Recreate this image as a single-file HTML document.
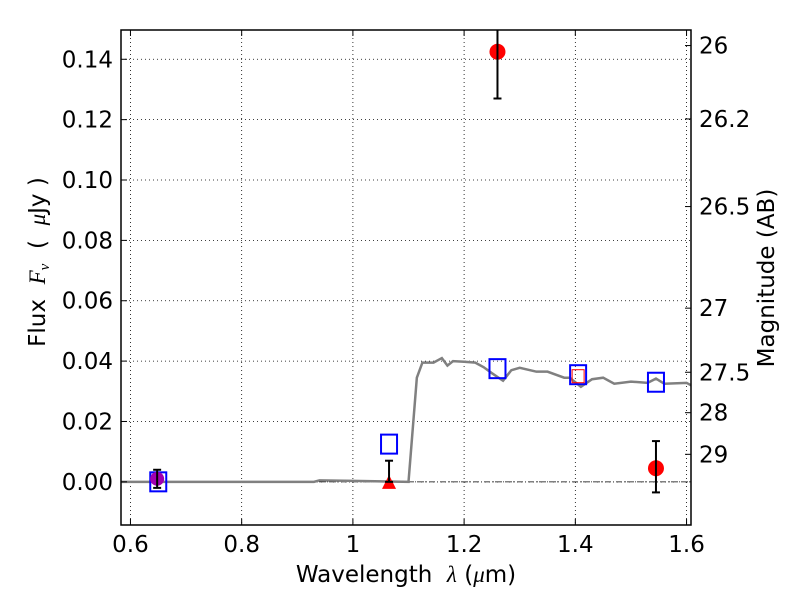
<!DOCTYPE html>
<html><head><meta charset="utf-8"><style>
html,body{margin:0;padding:0;background:#fff;}
svg{display:block;font-family:"DejaVu Sans","Liberation Sans",sans-serif;}
</style></head><body>
<svg id="chart" width="800" height="600" viewBox="0 0 800 600" xmlns="http://www.w3.org/2000/svg">
<defs><clipPath id="pc"><rect x="121" y="30" width="570" height="495"/></clipPath></defs>
<g id="grid"></g>
<g id="marks" clip-path="url(#pc)"></g>
<g id="axes"></g>
<text x="406" y="582" font-size="23" text-anchor="middle" xml:space="preserve">Wavelength  <tspan font-family="Liberation Serif" font-style="italic">λ</tspan> (<tspan font-family="Liberation Serif" font-style="italic">μ</tspan>m)</text>
<text transform="translate(45,262) rotate(-90)" font-size="23" text-anchor="middle" xml:space="preserve">Flux  <tspan font-family="Liberation Serif" font-style="italic">F<tspan font-size="15" dy="4">ν</tspan></tspan><tspan dy="-4">  (  </tspan><tspan font-family="Liberation Serif" font-style="italic">μ</tspan>Jy )</text>
<text transform="translate(774,278) rotate(-90)" font-size="23" text-anchor="middle">Magnitude (AB)</text>
</svg>
<script>
const xTicks=[0.6,0.8,1.0,1.2,1.4,1.6];
const xTickLabels=["0.6","0.8","1","1.2","1.4","1.6"];
const yTicks=[0,0.02,0.04,0.06,0.08,0.10,0.12,0.14];
const yTickLabels=["0.00","0.02","0.04","0.06","0.08","0.10","0.12","0.14"];
const magTicks=[26,26.2,26.5,27,27.5,28,29];
const magLabels=["26","26.2","26.5","27","27.5","28","29"];
const modelX=[0.58,0.93,0.94,1.0,1.1,1.115,1.125,1.145,1.16,1.17,1.18,1.2,1.22,1.235,1.25,1.27,1.285,1.3,1.33,1.35,1.38,1.39,1.41,1.43,1.45,1.47,1.5,1.53,1.545,1.56,1.6,1.608];
const modelY=[0,0,0.0005,0.0003,0,0.0345,0.0395,0.0395,0.041,0.0385,0.040,0.0398,0.0395,0.038,0.036,0.0335,0.037,0.0378,0.0365,0.0365,0.0345,0.0345,0.0315,0.034,0.0345,0.0325,0.0332,0.0328,0.0342,0.0325,0.0328,0.032];
const modelSqX=[0.65,1.065,1.26,1.405,1.545];
const modelSqY=[0.0,0.0125,0.0375,0.0355,0.033];
const detX=[1.26,1.545];
const detY=[0.1425,0.0045];
const detLo=[0.127,-0.0035];
const detHi=[0.16,0.0135];
const ulX=[1.065];const ulY=[0.0];const ulHi=[0.007];
const magX=[0.648];const magY=[0.001];const magErr=[0.003];
const redSqX=[1.405];const redSqY=[0.035];

const L=121,R=691,T=30,B=525;
const X0=0.583,X1=1.608,Y0=-0.0143,Y1=0.1497;
const sx=v=>L+(v-X0)/(X1-X0)*(R-L);
const sy=v=>B-(v-Y0)/(Y1-Y0)*(B-T);
const NS="http://www.w3.org/2000/svg";
function mk(tag,attrs,parent){const e=document.createElementNS(NS,tag);for(const k in attrs)e.setAttribute(k,attrs[k]);parent.appendChild(e);return e;}
const grid=document.getElementById('grid'),marks=document.getElementById('marks'),axes=document.getElementById('axes');
xTicks.forEach((v,i)=>{
 const g=mk('line',{x1:sx(v),x2:sx(v),y1:T,y2:B,stroke:'#000','stroke-width':0.8,'stroke-dasharray':'1,3'},grid);
 
 const t1=mk('line',{x1:sx(v),x2:sx(v),y1:B,y2:B-6,stroke:'#000'},axes);
 
 const t2=mk('line',{x1:sx(v),x2:sx(v),y1:T,y2:T+6,stroke:'#000'},axes);
 
 const l=mk('text',{x:sx(v),y:B+27,'font-size':23,'text-anchor':'middle'},axes);l.textContent=xTickLabels[i];
 
});
yTicks.forEach((v,i)=>{
 const g=mk('line',{x1:L,x2:R,y1:sy(v),y2:sy(v),stroke:'#000','stroke-width':0.8,'stroke-dasharray':'1,3'},grid);
 
 const t=mk('line',{x1:L,x2:L+6,y1:sy(v),y2:sy(v),stroke:'#000'},axes);
 
 const l=mk('text',{x:L-8,y:sy(v)+8,'font-size':23,'text-anchor':'end'},axes);l.textContent=yTickLabels[i];
 
});
const magToF=m=>Math.pow(10,(23.9-m)/2.5);
magTicks.forEach((m,i)=>{
 const y=sy(magToF(m));
 const t=mk('line',{x1:R,x2:R-6,y1:y,y2:y,stroke:'#000'},axes);
 
 const l=mk('text',{x:R+8,y:y+8,'font-size':23},axes);l.textContent=magLabels[i];
 
});
const zl=mk('line',{x1:L,x2:R,y1:sy(0),y2:sy(0),stroke:'#000','stroke-width':0.8,'stroke-dasharray':'6,2,1,2'},marks);

const pl=mk('polyline',{points:modelX.map((x,i)=>sx(x)+','+sy(modelY[i])).join(' '),fill:'none',stroke:'#808080','stroke-width':2.5},marks);

function ebar(x,lo,hi,name){
 const g=mk('g',{stroke:'#000','stroke-width':2},marks);
 
 mk('line',{x1:sx(x),x2:sx(x),y1:sy(lo),y2:sy(hi)},g);
 mk('line',{x1:sx(x)-4,x2:sx(x)+4,y1:sy(lo),y2:sy(lo)},g);
 mk('line',{x1:sx(x)-4,x2:sx(x)+4,y1:sy(hi),y2:sy(hi)},g);
}
modelSqX.forEach((x,i)=>{
 const r=mk('rect',{x:sx(x)-8,y:sy(modelSqY[i])-9.5,width:16,height:19,fill:'none',stroke:'#0000ff','stroke-width':2},marks);
 
});
redSqX.forEach((x,i)=>{
 const r=mk('rect',{x:sx(x)-6,y:sy(redSqY[i])-6.5,width:12,height:13,fill:'none',stroke:'#ff0000','stroke-width':1},marks);
 
});
magX.forEach((x,i)=>{
 const c=mk('circle',{cx:sx(x),cy:sy(magY[i]),r:7,fill:'#a000b0'},marks);
 
 ebar(x,magY[i]-magErr[i],magY[i]+magErr[i],'magenta-errorbar');
});
ulX.forEach((x,i)=>{
 const y=sy(ulY[i]),cx=sx(x);
 const p=mk('polygon',{points:`${cx-7},${y+7} ${cx+7},${y+7} ${cx},${y-7}`,fill:'#ff0000'},marks);
 
 ebar(x,ulY[i],ulHi[i],'upper-limit-errorbar');
});
detX.forEach((x,i)=>{
 const c=mk('circle',{cx:sx(x),cy:sy(detY[i]),r:8,fill:'#ff0000'},marks);
 
 ebar(x,detLo[i],detHi[i],'detection-errorbar');
});
const fr=mk('rect',{x:L,y:T,width:R-L,height:B-T,fill:'none',stroke:'#000','stroke-width':1.5},axes);

</script>
</body></html>
